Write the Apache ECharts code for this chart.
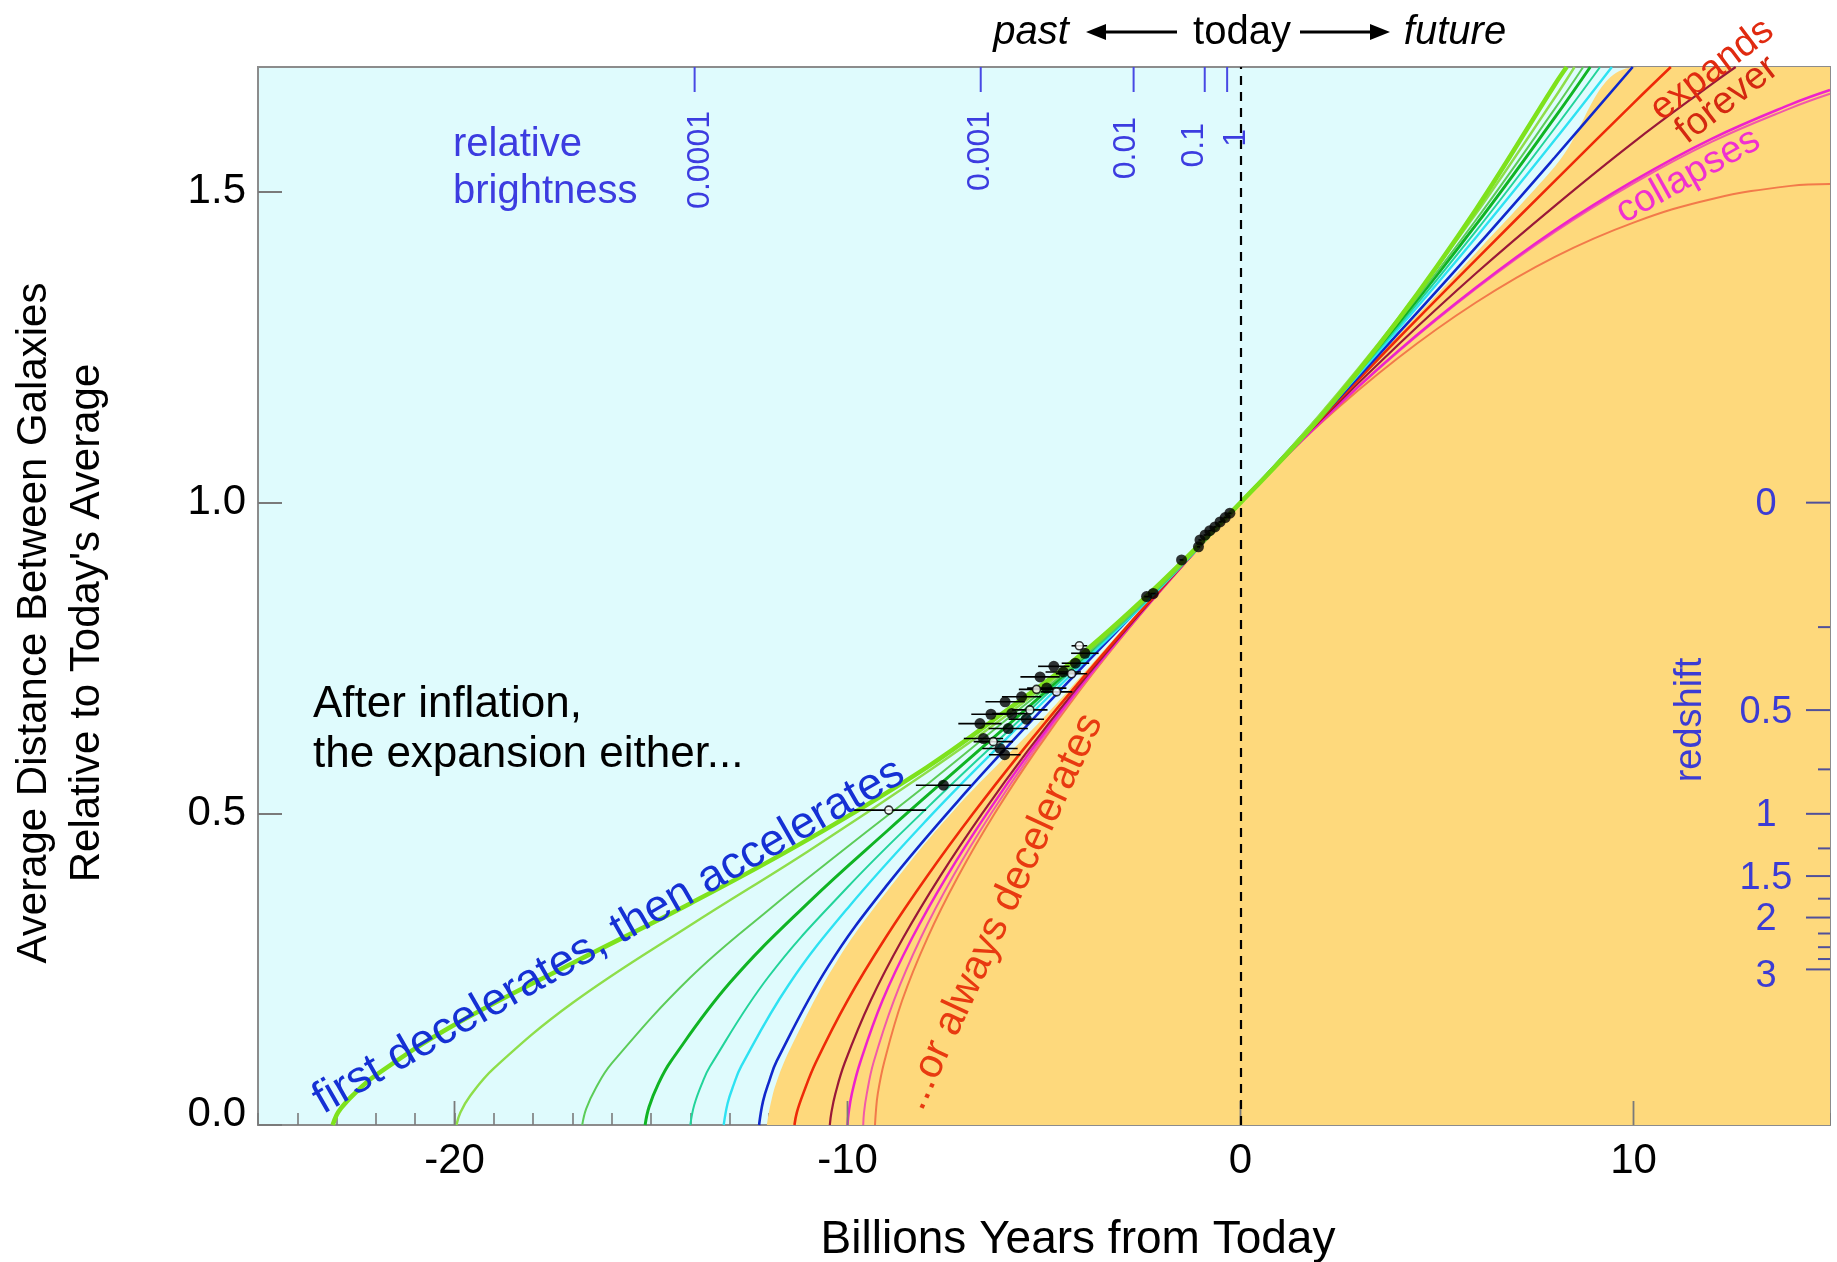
<!DOCTYPE html>
<html><head><meta charset="utf-8">
<script src="https://cdn.jsdelivr.net/npm/echarts@6/dist/echarts.min.js"></script>
<style>html,body{margin:0;padding:0;background:#fff;overflow:hidden}#c{width:1837px;height:1262px}</style>
</head><body><div id="c"></div>
<script>
// ---------- data ----------
const xLabeledTicks = [-20, -10, 0, 10];
const xMajorTicks = [-20, -10, 0, 10];

const brightnessPos = [-13.89, -6.61, -2.72, -0.91, -0.34];
const brightnessLabels = ['0.0001', '0.001', '0.01', '0.1', '1'];
const redshiftMajor = [0, 0.5, 1, 1.5, 2, 3];
const redshiftMinor = [0.25, 0.75, 1.25, 1.75, 2.25, 2.5, 2.75];

const curveThick = [[-23.1,0],[-23.0,0.016],[-22.9,0.026],[-22.6,0.047],[-22,0.08],[-20,0.161],[-17,0.26],[-14,0.356],[-11,0.459],[-8,0.574],[-6,0.664],[-4,0.759],[-2,0.873],[0,1],[2,1.135],[4,1.293],[6,1.472],[8,1.672],[8.3,1.70]];
const curveLight = [[-19.95,0],[-19.85,0.02],[-19.6,0.047],[-19,0.091],[-17,0.196],[-14,0.321],[-11,0.44],[-8,0.566],[-6,0.656],[-4,0.756],[-2,0.871],[0,1],[2,1.14],[4,1.295],[6,1.465],[8,1.651],[8.5,1.70]];
const curveGreen3 = [[-16.75,0],[-16.65,0.026],[-16.4,0.06],[-16,0.099],[-14,0.237],[-12,0.346],[-10,0.447],[-8,0.546],[-6,0.649],[-4,0.752],[-2,0.868],[0,1],[2,1.139],[4,1.29],[6,1.455],[8,1.633],[8.72,1.70]];
const curveGreen4 = [[-15.15,0],[-15.05,0.029],[-14.8,0.068],[-14.5,0.102],[-13,0.228],[-11,0.357],[-9,0.472],[-7,0.583],[-5,0.694],[-3,0.811],[-1.5,0.903],[0,1],[2,1.138],[4,1.287],[6,1.447],[8,1.619],[8.9,1.70]];
const curveTeal = [[-14,0],[-13.9,0.032],[-13.7,0.067],[-13.5,0.094],[-12,0.239],[-10,0.382],[-8,0.508],[-6,0.628],[-4,0.748],[-2,0.867],[0,1],[2,1.137],[4,1.282],[6,1.437],[8,1.602],[9.15,1.70]];
const curveCyan = [[-13.15,0],[-13.05,0.035],[-12.9,0.064],[-12.7,0.095],[-11.5,0.225],[-10,0.348],[-8,0.489],[-6,0.618],[-4,0.743],[-2,0.866],[0,1],[2,1.135],[4,1.278],[6,1.427],[8,1.583],[9.45,1.70]];
const curveBlue = [[-12.25,0],[-12.15,0.038],[-12,0.069],[-11.8,0.103],[-10.5,0.254],[-9,0.385],[-7,0.534],[-5,0.671],[-3,0.803],[-1.5,0.901],[0,1],[2,1.134],[4,1.271],[6,1.411],[8,1.555],[9.98,1.70]];
const curveRed = [[-11.35,0],[-11.29,0.02],[-11.13,0.05],[-10.81,0.1],[-10,0.2],[-9.04,0.3],[-7.97,0.4],[-6.81,0.5],[-5.57,0.6],[-4.26,0.7],[-2.9,0.8],[-1.475,0.9],[0,1],[2,1.132],[4,1.263],[6,1.391],[8,1.517],[10,1.642],[10.95,1.70]];
const curveDarkRed = [[-10.45,0],[-10.41,0.02],[-10.31,0.05],[-10.07,0.1],[-9.41,0.2],[-8.59,0.3],[-7.64,0.4],[-6.58,0.5],[-5.43,0.6],[-4.19,0.7],[-2.86,0.8],[-1.466,0.9],[0,1],[2,1.13],[4,1.253],[6,1.369],[8,1.477],[10,1.579],[12,1.673],[12.6,1.70]];
const curveMagenta = [[-10,0],[-9.97,0.02],[-9.89,0.05],[-9.68,0.1],[-9.11,0.2],[-8.36,0.3],[-7.47,0.4],[-6.46,0.5],[-5.35,0.6],[-4.14,0.7],[-2.84,0.8],[-1.46,0.9],[0,1],[2,1.127],[4,1.243],[6,1.346],[8,1.438],[10,1.517],[12,1.585],[14,1.64],[15,1.663]];
const curvePink = [[-9.6,0],[-9.58,0.02],[-9.51,0.05],[-9.34,0.1],[-8.82,0.2],[-8.14,0.3],[-7.31,0.4],[-6.35,0.5],[-5.28,0.6],[-4.1,0.7],[-2.83,0.8],[-1.46,0.9],[0,1],[2,1.1265],[4,1.2415],[6,1.344],[8,1.435],[10,1.513],[12,1.58],[14,1.634],[15,1.657]];
const curveSalmon = [[-9.3,0],[-9.28,0.02],[-9.23,0.05],[-9.07,0.1],[-8.61,0.2],[-7.97,0.3],[-7.18,0.4],[-6.26,0.5],[-5.22,0.6],[-4.07,0.7],[-2.81,0.8],[-1.45,0.9],[0,1],[2,1.125],[4,1.232],[6,1.322],[8,1.395],[10,1.45],[12,1.488],[14,1.509],[15,1.512]];
const boundary = [[-12.05,0],[-11.97,0.03],[-11.8,0.07],[-11.4,0.13],[-10.3,0.26],[-9.0,0.375],[-7.3,0.505],[-5,0.655],[-2.95,0.8],[-1.5,0.9],[0,1],[2,1.133],[4,1.268],[6,1.402],[8,1.54],[10.1,1.70],[15,1.70]];

// supernova data: [x, y, xerr]
const snFilled = [[-0.27,0.983,0.04],[-0.39,0.976,0.04],[-0.52,0.969,0.04],[-0.65,0.961,0.04],[-0.78,0.955,0.04],[-0.90,0.948,0.04],[-1.03,0.940,0.04],[-1.07,0.929,0.04],[-1.50,0.908,0.05],[-2.22,0.854,0.06],[-2.39,0.849,0.06],
  [-3.96,0.758,0.35],[-4.2,0.742,0.35],[-4.51,0.728,0.45],[-4.75,0.737,0.4],[-5.10,0.720,0.5],[-4.93,0.702,0.5],[-5.45,0.652,0.45],[-5.57,0.688,0.5],[-5.99,0.680,0.5],[-5.82,0.661,0.5],[-6.35,0.66,0.5],[-6.63,0.645,0.55],[-5.91,0.637,0.5],[-6.54,0.621,0.5],[-6.12,0.605,0.45],[-6.0,0.595,0.4],[-7.56,0.546,0.7]];
const snOpen = [[-4.10,0.770,0.2],[-4.30,0.725,0.4],[-4.68,0.696,0.4],[-5.19,0.700,0.45],[-5.36,0.667,0.45],[-6.29,0.616,0.5],[-8.95,0.506,0.95]];

// ---------- styles ----------
const FONT = "'Liberation Sans', Arial, Helvetica, sans-serif";
const curveDefs = [
  {d: curveSalmon, c: '#f27a4a', w: 2},
  {d: curvePink, c: '#f25aa8', w: 2},
  {d: curveMagenta, c: '#ee22cc', w: 2.5},
  {d: curveDarkRed, c: '#9a1838', w: 2.2},
  {d: curveRed, c: '#ee2a08', w: 2.6},
  {d: curveBlue, c: '#1028cc', w: 2.6},
  {d: curveCyan, c: '#2ee2f2', w: 2.4},
  {d: curveTeal, c: '#22d49a', w: 2},
  {d: curveGreen4, c: '#10b424', w: 3},
  {d: curveGreen3, c: '#5ccc58', w: 2},
  {d: curveLight, c: '#8ede4a', w: 2.4},
  {d: curveThick, c: '#7ee21c', w: 4.5}
];

const chart = echarts.init(document.getElementById('c'), null, {renderer: 'canvas'});

const series = [];
series.push({
  type: 'line', data: boundary, showSymbol: false, smooth: 0.4,
  lineStyle: {width: 0, opacity: 0}, areaStyle: {color: '#fed97c', opacity: 1}, z: 1, silent: true
});
curveDefs.forEach(cd => series.push({
  type: 'line', data: cd.d, showSymbol: false, smooth: 0.4,
  lineStyle: {color: cd.c, width: cd.w}, z: 3, silent: true
}));
// major x ticks (longer)
series.push({
  type: 'custom', data: xMajorTicks.map(v => [v, 0]), z: 4, silent: true,
  renderItem: (params, api) => {
    const p = api.coord([api.value(0), 0]);
    return {type: 'line', shape: {x1: p[0], y1: p[1], x2: p[0], y2: p[1] - 24}, style: {stroke: '#7a7a7a', lineWidth: 1.8}};
  }
});
// error bars
const errData = snFilled.concat(snOpen);
series.push({
  type: 'custom', data: errData, z: 6, silent: true,
  renderItem: (params, api) => {
    const x = api.value(0), y = api.value(1), e = api.value(2);
    const a = api.coord([x - e, y]), b = api.coord([x + e, y]);
    return {type: 'line', shape: {x1: a[0], y1: a[1], x2: b[0], y2: b[1]}, style: {stroke: '#000', lineWidth: 1.6}};
  },
  markLine: {
    symbol: 'none', silent: true, label: {show: false},
    lineStyle: {type: [9, 7], color: '#000', width: 2.2},
    data: [{xAxis: 0}]
  }
});
series.push({
  type: 'scatter', data: snFilled.map(p => [p[0], p[1]]), symbol: 'circle', symbolSize: 11,
  itemStyle: {color: '#000'}, z: 7, silent: true
});
series.push({
  type: 'scatter', data: snOpen.map(p => [p[0], p[1]]), symbol: 'circle', symbolSize: 8,
  itemStyle: {color: '#fff', borderColor: '#000', borderWidth: 1.6}, z: 8, silent: true
});
// relative brightness ticks (top)
const brightDx = [6, -1, -7, -11, 9];
const brightTop = [44, 44, 50, 56, 62];
series.push({
  type: 'custom', data: brightnessPos.map(v => [v, 1.7]), z: 9, silent: true,
  renderItem: (params, api) => {
    const i = params.dataIndex;
    const p = api.coord([api.value(0), 1.7]);
    return {type: 'group', children: [
      {type: 'line', shape: {x1: p[0], y1: p[1], x2: p[0], y2: p[1] + 25}, style: {stroke: '#4848e4', lineWidth: 2}},
      {type: 'text', x: p[0] + brightDx[i], y: p[1] + brightTop[i], rotation: Math.PI / 2,
       style: {text: brightnessLabels[i], font: '32px ' + FONT, fill: '#3c3ce0', align: 'right', verticalAlign: 'middle'}}
    ]};
  }
});
// redshift ticks (right)
series.push({
  type: 'custom', data: redshiftMajor.map(z => [z, 1]).concat(redshiftMinor.map(z => [z, 0])), z: 9, silent: true,
  renderItem: (params, api) => {
    const z = api.value(0), major = api.value(1);
    const p = api.coord([15, 1 / (1 + z)]);
    const len = major ? 24 : 12;
    const ch = [{type: 'line', shape: {x1: p[0] - len, y1: p[1], x2: p[0], y2: p[1]}, style: {stroke: '#50509a', lineWidth: 2}}];
    if (major) ch.push({type: 'text', x: p[0] - 64, y: p[1] + (z === 3 ? 7 : 2),
      style: {text: String(z), font: '38px ' + FONT, fill: '#3c3cd4', align: 'center', verticalAlign: 'middle'}});
    return {type: 'group', children: ch};
  }
});

const option = {
  animation: false,
  backgroundColor: '#ffffff',
  textStyle: {fontFamily: FONT},
  grid: {left: 258, right: 7, top: 67, bottom: 137, show: true, backgroundColor: '#dffbfd', borderColor: '#8c8c8c', borderWidth: 2,
    containLabel: false, outerBoundsMode: 'none'},
  xAxis: {
    type: 'value', min: -25, max: 15, interval: 1,
    axisLine: {show: true, onZero: false, lineStyle: {color: '#8c8c8c', width: 2}},
    axisTick: {show: true, inside: true, length: 12, lineStyle: {color: '#7a7a7a', width: 1.6}},
    axisLabel: {fontSize: 42, color: '#000', margin: 15, fontFamily: FONT,
      formatter: v => xLabeledTicks.indexOf(v) >= 0 ? (v < 0 ? '-' + Math.abs(v) : String(v)) : ''},
    splitLine: {show: false}
  },
  yAxis: {
    type: 'value', min: 0, max: 1.7, interval: 0.5,
    axisLine: {show: true, onZero: false, lineStyle: {color: '#8c8c8c', width: 2}},
    axisTick: {show: true, inside: true, length: 24, lineStyle: {color: '#7a7a7a', width: 2}},
    axisLabel: {fontSize: 42, color: '#000', margin: 12, fontFamily: FONT, showMaxLabel: false,
      formatter: v => v === 0 ? '{z|0.0}' : v.toFixed(1),
      rich: {z: {fontSize: 42, fontFamily: FONT, color: '#000', padding: [0, 0, 22, 0]}}},
    splitLine: {show: false}
  },
  series: series,
  graphic: {elements: [
    {type: 'text', x: 61, y: 623, rotation: Math.PI / 2, z: 100,
     style: {text: 'Average Distance Between Galaxies\nRelative to Today\'s Average', font: '42px ' + FONT, fill: '#000', align: 'center', verticalAlign: 'middle', lineHeight: 53}},
    {type: 'text', x: 1078, y: 1240, z: 100,
     style: {text: 'Billions Years from Today', font: '46px ' + FONT, fill: '#000', align: 'center', verticalAlign: 'middle'}},
    {type: 'text', x: 1031, y: 33, z: 100, style: {text: 'past', font: 'italic 40px ' + FONT, fill: '#000', align: 'center', verticalAlign: 'middle'}},
    {type: 'text', x: 1242, y: 33, z: 100, style: {text: 'today', font: '40px ' + FONT, fill: '#000', align: 'center', verticalAlign: 'middle'}},
    {type: 'text', x: 1455, y: 33, z: 100, style: {text: 'future', font: 'italic 40px ' + FONT, fill: '#000', align: 'center', verticalAlign: 'middle'}},
    {type: 'line', z: 100, shape: {x1: 1100, y1: 32, x2: 1177, y2: 32}, style: {stroke: '#000', lineWidth: 3}},
    {type: 'polygon', z: 100, shape: {points: [[1086, 32], [1106, 24], [1106, 40]]}, style: {fill: '#000'}},
    {type: 'line', z: 100, shape: {x1: 1300, y1: 32, x2: 1376, y2: 32}, style: {stroke: '#000', lineWidth: 3}},
    {type: 'polygon', z: 100, shape: {points: [[1390, 32], [1370, 24], [1370, 40]]}, style: {fill: '#000'}},
    {type: 'text', x: 453, y: 168, z: 100, style: {text: 'relative\nbrightness', font: '40px ' + FONT, fill: '#3c3ce0', align: 'left', verticalAlign: 'middle', lineHeight: 47}},
    {type: 'text', x: 1691, y: 720, rotation: Math.PI / 2, z: 100, style: {text: 'redshift', font: '38px ' + FONT, fill: '#3c3cd4', align: 'center', verticalAlign: 'middle'}},
    {type: 'text', x: 313, y: 730, z: 100, style: {text: 'After inflation,\nthe expansion either...', font: '44px ' + FONT, fill: '#000', align: 'left', verticalAlign: 'middle', lineHeight: 50}},
    {type: 'text', x: 620, y: 956, rotation: 0.52, z: 100, style: {text: 'first decelerates, then accelerates', font: '45px ' + FONT, fill: '#1530d4', align: 'center', verticalAlign: 'bottom'}},
    {type: 'text', x: 1002, y: 912, rotation: 1.138, z: 100, style: {text: '...or always decelerates', font: '41px ' + FONT, fill: '#e83a10', align: 'center', verticalAlign: 'middle'}},
    {type: 'text', x: 1712, y: 70, rotation: 0.65, z: 100, style: {text: 'expands', font: '38px ' + FONT, fill: '#e02a10', align: 'center', verticalAlign: 'middle'}},
    {type: 'text', x: 1727, y: 100, rotation: 0.66, z: 100, style: {text: 'forever', font: '38px ' + FONT, fill: '#d42810', align: 'center', verticalAlign: 'middle'}},
    {type: 'text', x: 1688, y: 176, rotation: 0.51, z: 100, style: {text: 'collapses', font: '38px ' + FONT, fill: '#f030d0', align: 'center', verticalAlign: 'middle'}}
  ]}
};
chart.setOption(option);
</script></body></html>
